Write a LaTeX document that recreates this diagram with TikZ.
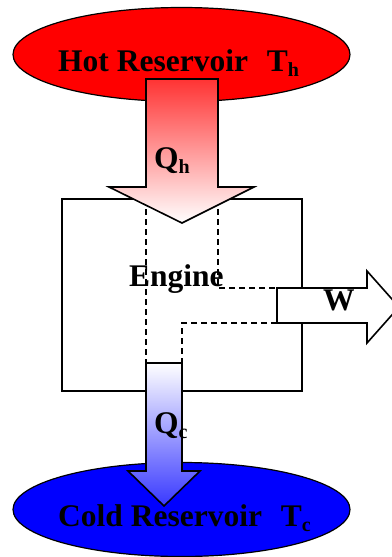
\documentclass[tikz,border=0pt]{standalone}
\usepackage{fontspec}
\setmainfont{Liberation Serif}
\usepackage{tikz}
\usetikzlibrary{shapes,positioning,calc}
\newcommand{\tsub}[1]{\raisebox{-5pt}{\fontsize{20}{20}\selectfont #1}}

\begin{document}
\begin{tikzpicture}[x=1pt,y=-1pt,
  reservoir/.style={ellipse, draw, line width=1.2pt, minimum width=337pt, minimum height=94pt, inner sep=0pt},
  bigtext/.style={font=\fontsize{31.5}{36}\selectfont\bfseries, inner sep=0pt, anchor=base west},
  flow/.style={draw, line width=1.6pt, line join=miter},
  trace/.style={dash pattern=on 6pt off 4pt, line width=1.5pt}]
  \useasboundingbox (0,0) rectangle (391,557);
  \node[reservoir, fill=red] (hot) at (181.5,54.5) {};
  \node[reservoir, fill=blue] (cold) at (181.5,509.5) {};
  \node[bigtext] (hottext) at (58,71) {Hot Reservoir\hspace{0.6em}T\tsub{h}};
  \node[draw, line width=1.6pt, minimum width=240pt, minimum height=192pt, inner sep=0pt] (engine) at (182,295) {};
  \draw[trace] (146,199) -- (146,363);
  \draw[trace] (218,199) -- (218,288) -- (277,288);
  \draw[trace] (277,323) -- (182,323) -- (182,363);
  \path[flow, top color=red!80, bottom color=white] (146,79) -- (218,79) -- (218,187) -- (254,187) -- (182,223) -- (109,187) -- (146,187) -- cycle;
  \path[flow, top color=white, bottom color=blue!78] (146,363) -- (182,363) -- (182,471) -- (200,471) -- (164,506) -- (128,471) -- (146,471) -- cycle;
  \path[flow, fill=white] (277,288) -- (367,288) -- (367,271) -- (399,307) -- (367,343) -- (367,323) -- (277,323) -- cycle;
  \node[bigtext] (qh) at (154,168) {Q\tsub{h}};
  \node[bigtext] (engtext) at (129,286) {Engine};
  \node[bigtext] (w) at (323,310) {W};
  \node[bigtext] (qc) at (154,433) {Q\tsub{c}};
  \node[bigtext] (coldtext) at (58,526) {Cold Reservoir\hspace{0.6em}T\tsub{c}};
\end{tikzpicture}
\end{document}
